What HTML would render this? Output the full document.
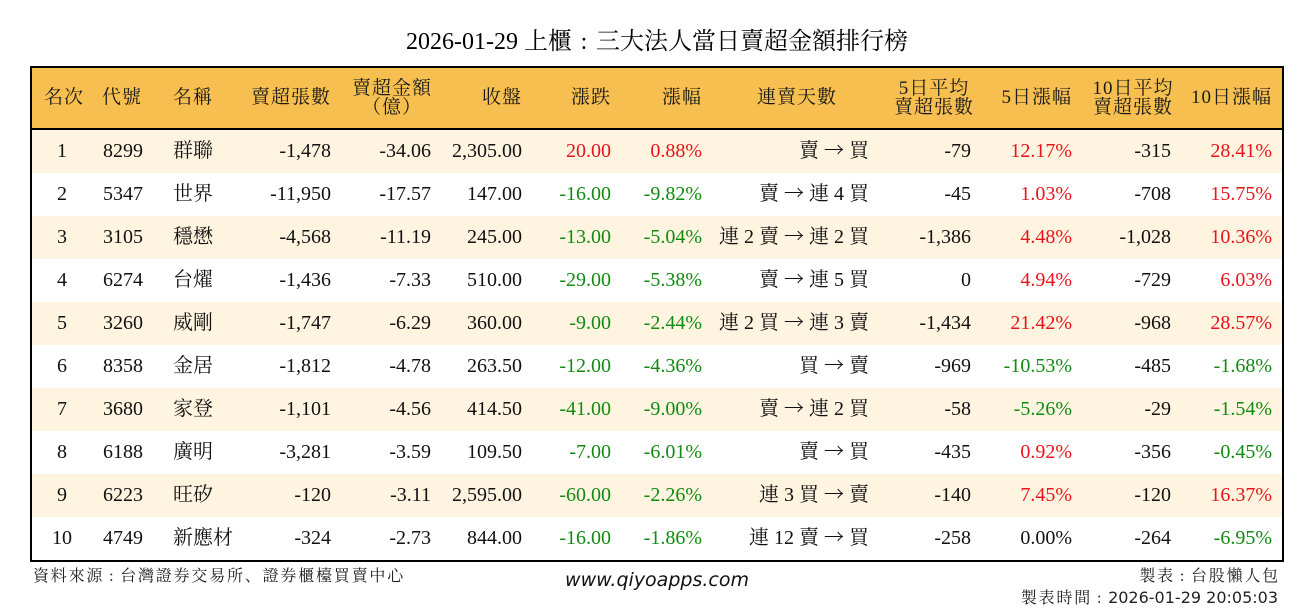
<!DOCTYPE html>
<html><head><meta charset="utf-8">
<style>
html,body{margin:0;padding:0;background:#fff;}
body{width:1314px;height:612px;position:relative;overflow:hidden;font-family:"Liberation Serif","Noto Serif CJK SC",serif;color:#111;}
.title{position:absolute;left:0;top:24px;width:1314px;height:36px;line-height:36px;text-align:center;font-size:24px;color:#000;white-space:nowrap;}
.frame{position:absolute;left:30px;top:66px;width:1254px;height:496px;box-sizing:border-box;border:2px solid #000;z-index:5;}
.head{position:absolute;left:32px;top:68px;width:1250px;height:60px;background:#f7bf4f;}
.hline{position:absolute;left:32px;top:128px;width:1250px;height:2px;background:#000;}
.h{position:absolute;top:0;height:60px;line-height:60px;font-size:19px;white-space:nowrap;color:#1a1a1a;letter-spacing:1px;}
.h2{position:absolute;top:11px;line-height:19px;font-size:19px;white-space:nowrap;text-align:center;width:200px;color:#1a1a1a;letter-spacing:1px;}
.row{position:absolute;left:32px;width:1250px;height:43px;}
.c{position:absolute;top:0;height:43px;line-height:43px;font-size:20px;white-space:nowrap;}
.o{background:#fef4e0;}
.rd{color:#e8131b;}
.gn{color:#118a11;}
.foot{position:absolute;font-size:16px;white-space:nowrap;color:#222;letter-spacing:1.8px;}
.url{position:absolute;left:457px;width:400px;text-align:center;top:568px;height:24px;line-height:24px;font-family:"DejaVu Sans",sans-serif;font-style:italic;font-size:19px;color:#111;}
.ds{font-family:"DejaVu Sans",sans-serif;letter-spacing:0;}
.ar{font-family:"Noto Sans CJK TC","Noto Serif CJK SC",sans-serif;font-weight:300;line-height:0;}
.col{display:inline-block;width:1em;text-align:center;font-family:"Liberation Serif",serif;line-height:0;}
</style></head><body>

<div class="title">2026-01-29 上櫃<span class="col">:</span>三大法人當日賣超金額排行榜</div>

<div class="head">
  <div class="h" style="left:0;width:64px;text-align:center;">名次</div>
  <div class="h" style="left:70px;width:40px;text-align:center;">代號</div>
  <div class="h" style="left:141px;">名稱</div>
  <div class="h" style="right:951px;">賣超張數</div>
  <div class="h2" style="left:260px;">賣超金額<br>（億）</div>
  <div class="h" style="right:760px;">收盤</div>
  <div class="h" style="right:671px;">漲跌</div>
  <div class="h" style="right:580px;">漲幅</div>
  <div class="h" style="left:665px;width:200px;text-align:center;">連賣天數</div>
  <div class="h2" style="left:802px;">5日平均<br>賣超張數</div>
  <div class="h" style="right:210px;">5日漲幅</div>
  <div class="h2" style="left:1001px;">10日平均<br>賣超張數</div>
  <div class="h" style="right:10px;">10日漲幅</div>
</div>
<div class="hline"></div>

<div class="row o" style="top:130px;">
  <div class="c" style="left:0;width:60px;text-align:center;">1</div>
  <div class="c" style="left:71px;">8299</div>
  <div class="c" style="left:141px;">群聯</div>
  <div class="c" style="right:951px;">-1,478</div>
  <div class="c" style="right:851px;">-34.06</div>
  <div class="c" style="right:760px;">2,305.00</div>
  <div class="c rd" style="right:671px;">20.00</div>
  <div class="c rd" style="right:580px;">0.88%</div>
  <div class="c" style="right:413px;">賣 <span class="ar">→</span> 買</div>
  <div class="c" style="right:311px;">-79</div>
  <div class="c rd" style="right:210px;">12.17%</div>
  <div class="c" style="right:111px;">-315</div>
  <div class="c rd" style="right:10px;">28.41%</div>
</div>

<div class="row" style="top:173px;">
  <div class="c" style="left:0;width:60px;text-align:center;">2</div>
  <div class="c" style="left:71px;">5347</div>
  <div class="c" style="left:141px;">世界</div>
  <div class="c" style="right:951px;">-11,950</div>
  <div class="c" style="right:851px;">-17.57</div>
  <div class="c" style="right:760px;">147.00</div>
  <div class="c gn" style="right:671px;">-16.00</div>
  <div class="c gn" style="right:580px;">-9.82%</div>
  <div class="c" style="right:413px;">賣 <span class="ar">→</span> 連 4 買</div>
  <div class="c" style="right:311px;">-45</div>
  <div class="c rd" style="right:210px;">1.03%</div>
  <div class="c" style="right:111px;">-708</div>
  <div class="c rd" style="right:10px;">15.75%</div>
</div>

<div class="row o" style="top:216px;">
  <div class="c" style="left:0;width:60px;text-align:center;">3</div>
  <div class="c" style="left:71px;">3105</div>
  <div class="c" style="left:141px;">穩懋</div>
  <div class="c" style="right:951px;">-4,568</div>
  <div class="c" style="right:851px;">-11.19</div>
  <div class="c" style="right:760px;">245.00</div>
  <div class="c gn" style="right:671px;">-13.00</div>
  <div class="c gn" style="right:580px;">-5.04%</div>
  <div class="c" style="right:413px;">連 2 賣 <span class="ar">→</span> 連 2 買</div>
  <div class="c" style="right:311px;">-1,386</div>
  <div class="c rd" style="right:210px;">4.48%</div>
  <div class="c" style="right:111px;">-1,028</div>
  <div class="c rd" style="right:10px;">10.36%</div>
</div>

<div class="row" style="top:259px;">
  <div class="c" style="left:0;width:60px;text-align:center;">4</div>
  <div class="c" style="left:71px;">6274</div>
  <div class="c" style="left:141px;">台燿</div>
  <div class="c" style="right:951px;">-1,436</div>
  <div class="c" style="right:851px;">-7.33</div>
  <div class="c" style="right:760px;">510.00</div>
  <div class="c gn" style="right:671px;">-29.00</div>
  <div class="c gn" style="right:580px;">-5.38%</div>
  <div class="c" style="right:413px;">賣 <span class="ar">→</span> 連 5 買</div>
  <div class="c" style="right:311px;">0</div>
  <div class="c rd" style="right:210px;">4.94%</div>
  <div class="c" style="right:111px;">-729</div>
  <div class="c rd" style="right:10px;">6.03%</div>
</div>

<div class="row o" style="top:302px;">
  <div class="c" style="left:0;width:60px;text-align:center;">5</div>
  <div class="c" style="left:71px;">3260</div>
  <div class="c" style="left:141px;">威剛</div>
  <div class="c" style="right:951px;">-1,747</div>
  <div class="c" style="right:851px;">-6.29</div>
  <div class="c" style="right:760px;">360.00</div>
  <div class="c gn" style="right:671px;">-9.00</div>
  <div class="c gn" style="right:580px;">-2.44%</div>
  <div class="c" style="right:413px;">連 2 買 <span class="ar">→</span> 連 3 賣</div>
  <div class="c" style="right:311px;">-1,434</div>
  <div class="c rd" style="right:210px;">21.42%</div>
  <div class="c" style="right:111px;">-968</div>
  <div class="c rd" style="right:10px;">28.57%</div>
</div>

<div class="row" style="top:345px;">
  <div class="c" style="left:0;width:60px;text-align:center;">6</div>
  <div class="c" style="left:71px;">8358</div>
  <div class="c" style="left:141px;">金居</div>
  <div class="c" style="right:951px;">-1,812</div>
  <div class="c" style="right:851px;">-4.78</div>
  <div class="c" style="right:760px;">263.50</div>
  <div class="c gn" style="right:671px;">-12.00</div>
  <div class="c gn" style="right:580px;">-4.36%</div>
  <div class="c" style="right:413px;">買 <span class="ar">→</span> 賣</div>
  <div class="c" style="right:311px;">-969</div>
  <div class="c gn" style="right:210px;">-10.53%</div>
  <div class="c" style="right:111px;">-485</div>
  <div class="c gn" style="right:10px;">-1.68%</div>
</div>

<div class="row o" style="top:388px;">
  <div class="c" style="left:0;width:60px;text-align:center;">7</div>
  <div class="c" style="left:71px;">3680</div>
  <div class="c" style="left:141px;">家登</div>
  <div class="c" style="right:951px;">-1,101</div>
  <div class="c" style="right:851px;">-4.56</div>
  <div class="c" style="right:760px;">414.50</div>
  <div class="c gn" style="right:671px;">-41.00</div>
  <div class="c gn" style="right:580px;">-9.00%</div>
  <div class="c" style="right:413px;">賣 <span class="ar">→</span> 連 2 買</div>
  <div class="c" style="right:311px;">-58</div>
  <div class="c gn" style="right:210px;">-5.26%</div>
  <div class="c" style="right:111px;">-29</div>
  <div class="c gn" style="right:10px;">-1.54%</div>
</div>

<div class="row" style="top:431px;">
  <div class="c" style="left:0;width:60px;text-align:center;">8</div>
  <div class="c" style="left:71px;">6188</div>
  <div class="c" style="left:141px;">廣明</div>
  <div class="c" style="right:951px;">-3,281</div>
  <div class="c" style="right:851px;">-3.59</div>
  <div class="c" style="right:760px;">109.50</div>
  <div class="c gn" style="right:671px;">-7.00</div>
  <div class="c gn" style="right:580px;">-6.01%</div>
  <div class="c" style="right:413px;">賣 <span class="ar">→</span> 買</div>
  <div class="c" style="right:311px;">-435</div>
  <div class="c rd" style="right:210px;">0.92%</div>
  <div class="c" style="right:111px;">-356</div>
  <div class="c gn" style="right:10px;">-0.45%</div>
</div>

<div class="row o" style="top:474px;">
  <div class="c" style="left:0;width:60px;text-align:center;">9</div>
  <div class="c" style="left:71px;">6223</div>
  <div class="c" style="left:141px;">旺矽</div>
  <div class="c" style="right:951px;">-120</div>
  <div class="c" style="right:851px;">-3.11</div>
  <div class="c" style="right:760px;">2,595.00</div>
  <div class="c gn" style="right:671px;">-60.00</div>
  <div class="c gn" style="right:580px;">-2.26%</div>
  <div class="c" style="right:413px;">連 3 買 <span class="ar">→</span> 賣</div>
  <div class="c" style="right:311px;">-140</div>
  <div class="c rd" style="right:210px;">7.45%</div>
  <div class="c" style="right:111px;">-120</div>
  <div class="c rd" style="right:10px;">16.37%</div>
</div>

<div class="row" style="top:517px;">
  <div class="c" style="left:0;width:60px;text-align:center;">10</div>
  <div class="c" style="left:71px;">4749</div>
  <div class="c" style="left:141px;">新應材</div>
  <div class="c" style="right:951px;">-324</div>
  <div class="c" style="right:851px;">-2.73</div>
  <div class="c" style="right:760px;">844.00</div>
  <div class="c gn" style="right:671px;">-16.00</div>
  <div class="c gn" style="right:580px;">-1.86%</div>
  <div class="c" style="right:413px;">連 12 賣 <span class="ar">→</span> 買</div>
  <div class="c" style="right:311px;">-258</div>
  <div class="c" style="right:210px;">0.00%</div>
  <div class="c" style="right:111px;">-264</div>
  <div class="c gn" style="right:10px;">-6.95%</div>
</div>

<div class="frame"></div>

<div class="foot" style="left:33px;top:566px;height:22px;line-height:22px;">資料來源<span class="col">:</span>台灣證券交易所、證券櫃檯買賣中心</div>
<div class="url">www.qiyoapps.com</div>
<div class="foot" style="right:34px;top:566px;height:22px;line-height:22px;">製表<span class="col">:</span>台股懶人包</div>
<div class="foot" style="right:36px;top:587px;height:22px;line-height:22px;">製表時間<span class="col">:</span><span class="ds">2026-01-29 20:05:03</span></div>

</body></html>
